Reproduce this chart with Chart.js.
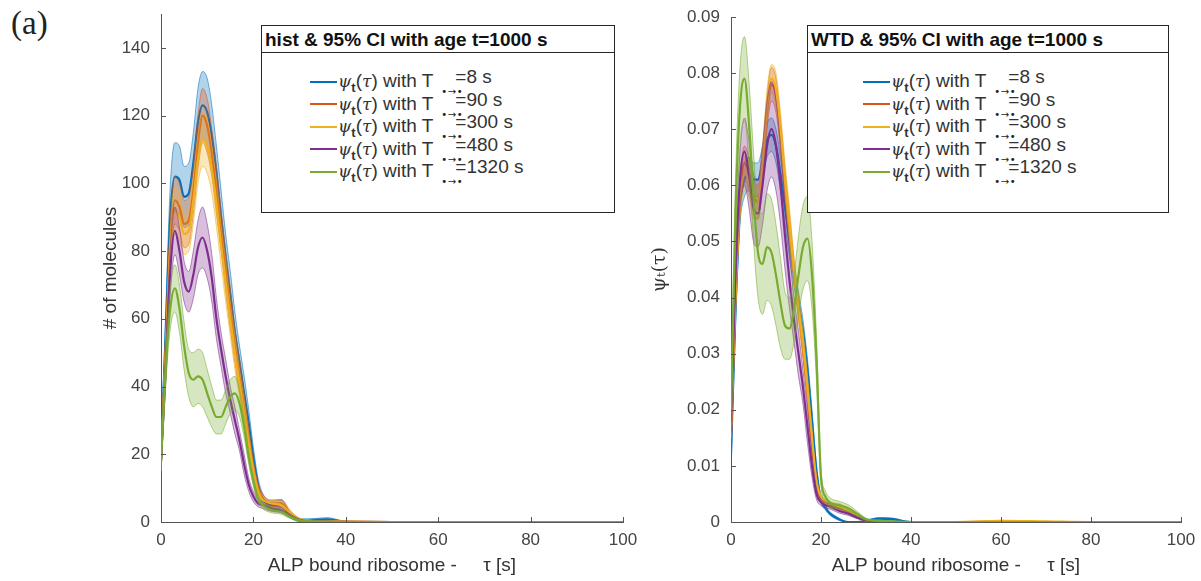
<!DOCTYPE html>
<html>
<head>
<meta charset="utf-8">
<script src="https://cdn.jsdelivr.net/npm/chart.js@4.4.1/dist/chart.umd.min.js"></script>
<style>
body { margin:0; width:1201px; height:581px; background:#fff; position:relative; overflow:hidden;
       font-family:"Liberation Sans", Arial, sans-serif; color:#262626; }
.wrap { position:absolute; top:0; height:581px; }
#wrapL { left:0; width:640px; }
#wrapR { left:640px; width:561px; }
#tag { position:absolute; left:11px; top:5px; font-family:"Liberation Serif", serif; font-size:33px; color:#222; }
.legend { position:absolute; top:25px; height:188px; border:1px solid #262626; background:#fff; box-sizing:border-box; }
.ltitle { height:26px; line-height:27px; border-bottom:1px solid #262626; font-weight:bold; font-size:19px;
          padding-left:3px; white-space:nowrap; color:#111; }
.lbody { padding-top:17px; }
.row { height:22.5px; line-height:22.5px; font-size:19px; white-space:nowrap; position:relative; color:#333; }
.smp { display:inline-block; width:27px; height:2px; vertical-align:middle; margin-right:1px; }
.gr { font-family:"DejaVu Serif", serif; font-style:italic; font-size:17px; }
.row sub { font-size:13px; font-weight:bold; vertical-align:-5px; line-height:0; }
.arr { display:inline-block; width:14px; margin-left:8px; font-size:10px; position:relative; top:8px; overflow:visible;
       font-family:"DejaVu Sans", sans-serif; color:#222; letter-spacing:0.5px; }
.eq { position:relative; top:-4px; }
</style>
</head>
<body>
<div id="tag">(a)</div>
<div class="wrap" id="wrapL"><canvas id="histChart"></canvas></div>
<div class="wrap" id="wrapR"><canvas id="wtdChart"></canvas></div>
<div class="legend" id="legL" style="left:261px;width:354px"></div>
<div class="legend" id="legR" style="left:807px;width:362px"></div>
<script>
// waiting time grid (s)
var taus = [0,1,2,3,4,5,6,7,8,9,10,11,12,13,14,15,16,17,18,19,20,21,22,24,26,28,30,33,36,40,50,60,70,80,90,100];

// histogram: # of molecules, mean and 95% CI half width
var histBlue     = [18,55,90,102,101,96,97,106,118,123,121,114,103,90,78,67,56,47,38,29,19,11,7,5,5,2,0.5,0.6,0.8,0.1,0,0,0,0,0,0];
var histBlueCI   = [3,6,9,10,10,9,9,9,10,10,10,9,8,8,7,7,6,5,5,4,3,2,1.5,1.2,1.5,0.8,0.4,0.4,0.5,0.1,0,0,0,0,0,0];
var histRed      = [18,50,82,95,93,88,89,98,112,120,117,109,98,86,74,63,52,43,34,25,16,10,7,5.5,5.5,2.5,0.8,0.3,0.2,0.1,0,0,0,0,0,0];
var histRedCI    = [3,5,7,7,7,7,7,7,8,8,8,7,7,6,6,6,5,5,4,3,2,1.5,1.2,1,1.2,0.8,0.3,0.2,0.1,0,0,0,0,0,0,0];
var histYellow   = [18,48,80,92,90,85,86,95,107,113,111,104,94,82,71,60,50,41,32,23,15,9,6.5,5.5,5,2.5,0.8,0.3,0.2,0.1,0,0,0,0,0,0];
var histYellowCI = [3,5,6,7,7,6,6,7,7,8,8,7,7,6,6,5,5,4,4,3,2,1.5,1.2,1,1,0.7,0.3,0.2,0.1,0,0,0,0,0,0,0];
var histPurple   = [18,45,74,86,80,71,68,73,81,84,80,72,60,51,43,36,30,24,17,11,7.5,5.5,5,4,3.5,1.8,0.6,0.2,0.1,0,0,0,0,0,0,0];
var histPurpleCI = [2,5,7,7,7,6,6,7,8,9,8,7,6,5,5,4,4,3,3,2,1.5,1,1,0.9,0.8,0.5,0.2,0.1,0,0,0,0,0,0,0,0];
var histGreen    = [18,45,63,69,63,52,44,42,43,42,38,34,31,31,34,37,38,35,28,19,12,7,5,3.5,3,1.5,0.5,0.2,0.1,0,0,0,0,0,0,0];
var histGreenCI  = [2,5,6,7,7,7,7,8,8,8,7,6,5,5,5,5,5,4,3,2,1.5,1,1,0.8,0.7,0.5,0.2,0.1,0,0,0,0,0,0,0,0];

// waiting time distribution psi_t(tau), mean and 95% CI half width
var wtdBlue     = [0.012,0.038,0.056,0.061,0.062,0.061,0.061,0.064,0.068,0.069,0.067,0.062,0.056,0.050,0.044,0.039,0.034,0.027,0.018,0.009,0.004,0.0025,0.0015,0.0005,0,0,0.0002,0.0006,0.0005,0,0,0,0,0,0,0];
var wtdBlueCI   = [0.002,0.003,0.003,0.003,0.003,0.003,0.003,0.003,0.003,0.003,0.003,0.003,0.003,0.003,0.002,0.002,0.002,0.002,0.002,0.001,0.0005,0.0004,0.0003,0.0002,0,0,0.0001,0.0002,0.0002,0,0,0,0,0,0,0];
var wtdRed      = [0.015,0.041,0.058,0.064,0.062,0.058,0.057,0.063,0.073,0.078,0.076,0.069,0.060,0.052,0.045,0.038,0.031,0.023,0.014,0.007,0.004,0.0035,0.003,0.0025,0.002,0.001,0.0003,0.0001,0,0,0,0,0,0,0,0];
var wtdRedCI    = [0.002,0.003,0.003,0.003,0.003,0.003,0.003,0.003,0.003,0.003,0.003,0.003,0.003,0.003,0.002,0.002,0.002,0.002,0.0015,0.001,0.0006,0.0005,0.0005,0.0005,0.0004,0.0003,0.0001,0,0,0,0,0,0,0,0,0];
var wtdYellow   = [0.017,0.041,0.057,0.062,0.061,0.057,0.057,0.064,0.074,0.079,0.077,0.070,0.061,0.053,0.045,0.038,0.032,0.024,0.015,0.007,0.0045,0.0035,0.003,0.0028,0.002,0.001,0.0003,0.0001,0,0,0,0.0002,0.0001,0,0,0];
var wtdYellowCI = [0.002,0.003,0.003,0.003,0.003,0.003,0.003,0.003,0.003,0.0025,0.003,0.003,0.003,0.003,0.002,0.002,0.002,0.002,0.0015,0.001,0.0006,0.0005,0.0005,0.0005,0.0004,0.0003,0.0001,0,0,0,0,0.0001,0,0,0,0];
var wtdPurple   = [0.018,0.045,0.061,0.066,0.062,0.056,0.055,0.060,0.067,0.070,0.067,0.060,0.051,0.043,0.036,0.030,0.024,0.017,0.010,0.005,0.0035,0.003,0.0028,0.002,0.0015,0.0008,0.0003,0.0001,0,0,0,0,0,0,0,0];
var wtdPurpleCI = [0.002,0.004,0.005,0.006,0.006,0.006,0.006,0.007,0.008,0.0085,0.008,0.007,0.006,0.005,0.004,0.004,0.003,0.003,0.002,0.001,0.0006,0.0005,0.0005,0.0004,0.0003,0.0002,0.0001,0,0,0,0,0,0,0,0,0];
var wtdGreen    = [0.020,0.055,0.074,0.079,0.071,0.058,0.048,0.046,0.049,0.048,0.044,0.039,0.035,0.0345,0.038,0.044,0.049,0.0505,0.044,0.029,0.008,0.0045,0.0035,0.003,0.0025,0.0015,0.0005,0.0002,0.0001,0,0,0,0,0,0,0];
var wtdGreenCI  = [0.003,0.006,0.007,0.0075,0.0075,0.008,0.008,0.009,0.0095,0.0095,0.009,0.008,0.006,0.0055,0.006,0.007,0.0075,0.0075,0.006,0.004,0.0015,0.001,0.0008,0.0007,0.0006,0.0004,0.0002,0.0001,0,0,0,0,0,0,0,0];

// legend entries
var periods = ['8', '90', '300', '480', '1320'];
var colors = ['0,114,189', '217,83,25', '237,177,32', '126,47,142', '119,172,48'];
var histTitle = 'hist & 95% CI with age t=1000 s';
var wtdTitle = 'WTD & 95% CI with age t=1000 s';

var histTicksX = [0, 20, 40, 60, 80, 100];

function pts(vals, ci, sign) {
    return taus.map(function (t, i) {
        var v = vals[i];
        if (ci) v = Math.max(0, v + sign * ci[i]);
        return {x: t, y: v};
    });
}

function buildSets(means, cis) {
    var sets = [];
    for (var k = 0; k < means.length; k++) {
        var c = colors[k];
        var base = 100 - 10 * k;
        var common = {pointRadius: 0, cubicInterpolationMode: 'monotone', borderWidth: 1,
                      borderColor: 'rgba(' + c + ',0.55)'};
        sets.push(Object.assign({data: pts(means[k], cis[k], -1), fill: false, order: base}, common));
        sets.push(Object.assign({data: pts(means[k], cis[k], 1), fill: '-1', order: base - 1,
                                 backgroundColor: 'rgba(' + c + ',0.3)'}, common));
        sets.push({data: pts(means[k]), fill: false, order: base - 5, pointRadius: 0,
                   cubicInterpolationMode: 'monotone', borderWidth: 2.2, borderColor: 'rgb(' + c + ')'});
    }
    return sets;
}

// matlab style ticks pointing into the axes
var inTicks = {
    id: 'inTicks',
    afterDraw: function (chart) {
        var ctx = chart.ctx, a = chart.chartArea, x = chart.scales.x, y = chart.scales.y;
        ctx.save();
        ctx.strokeStyle = '#555';
        ctx.lineWidth = 1;
        ctx.beginPath();
        x.ticks.forEach(function (t) {
            var px = Math.round(x.getPixelForValue(t.value)) + 0.5;
            ctx.moveTo(px, a.bottom); ctx.lineTo(px, a.bottom - 5);
        });
        y.ticks.forEach(function (t) {
            var py = Math.round(y.getPixelForValue(t.value)) + 0.5;
            ctx.moveTo(a.left, py); ctx.lineTo(a.left + 5, py);
        });
        ctx.stroke();
        ctx.restore();
    }
};

function makeChart(id, sets, opt) {
    return new Chart(document.getElementById(id), {
        type: 'line',
        data: {datasets: sets},
        plugins: [inTicks],
        options: {
            responsive: true,
            maintainAspectRatio: false,
            animation: false,
            layout: {padding: opt.padding},
            plugins: {legend: {display: false}, tooltip: {enabled: false}},
            scales: {
                x: {
                    type: 'linear', min: 0, max: 100,
                    afterBuildTicks: function (s) { s.ticks = histTicksX.map(function (v) { return {value: v}; }); },
                    grid: {display: false, drawTicks: false},
                    border: {display: true, color: '#555', width: 1},
                    ticks: {color: '#444', font: {size: 17, family: 'Liberation Sans'}, padding: 8, maxRotation: 0},
                    title: {display: true, text: 'ALP bound ribosome -     τ [s]', color: '#333',
                            font: {size: 19, family: 'Liberation Sans'}, padding: 4},
                    afterFit: function (s) { s.height = 59; s.paddingLeft = 0; s.paddingRight = 0; }
                },
                y: {
                    min: 0, max: opt.ymax,
                    grid: {display: false, drawTicks: false},
                    border: {display: true, color: '#555', width: 1},
                    ticks: {stepSize: opt.step, includeBounds: false, color: '#444', padding: 11,
                            font: {size: 17, family: 'Liberation Sans'}, callback: opt.fmt},
                    title: {display: true, text: opt.ytitle, color: '#333',
                            font: {size: 19, family: opt.yfont || 'Liberation Sans'}, padding: 4},
                    afterFit: function (s) { s.width = opt.ywidth; s.paddingTop = 0; s.paddingBottom = 0; }
                }
            }
        }
    });
}

makeChart('histChart',
    buildSets([histBlue, histRed, histYellow, histPurple, histGreen],
              [histBlueCI, histRedCI, histYellowCI, histPurpleCI, histGreenCI]),
    {padding: {left: 95, right: 17, top: 14, bottom: 0}, ywidth: 66, ymax: 150, step: 20,
     ytitle: '# of molecules', fmt: function (v) { return v; }});

makeChart('wtdChart',
    buildSets([wtdBlue, wtdRed, wtdYellow, wtdPurple, wtdGreen],
              [wtdBlueCI, wtdRedCI, wtdYellowCI, wtdPurpleCI, wtdGreenCI]),
    {padding: {left: 5, right: 20, top: 17, bottom: 0}, ywidth: 86, ymax: 0.09, step: 0.01,
     ytitle: 'ψₜ(τ)', yfont: 'DejaVu Serif',
     fmt: function (v) { return v === 0 ? '0' : v.toFixed(2); }});

function fillLegend(id, title, pad) {
    var el = document.getElementById(id);
    var html = '<div class="ltitle"></div><div class="lbody" style="padding-left:' + pad + 'px">';
    for (var k = 0; k < periods.length; k++) {
        html += '<div class="row"><span class="smp" style="background:rgb(' + colors[k] + ')"></span>' +
            '<span class="gr">ψ</span><sub>t</sub>(<span class="gr">τ</span>) with T' +
            '<span class="arr">•→•</span><span class="eq">=' + periods[k] + ' s</span></div>';
    }
    el.innerHTML = html + '</div>';
    el.querySelector('.ltitle').textContent = title;
}
fillLegend('legL', histTitle, 48);
fillLegend('legR', wtdTitle, 55);
</script>
</body>
</html>
